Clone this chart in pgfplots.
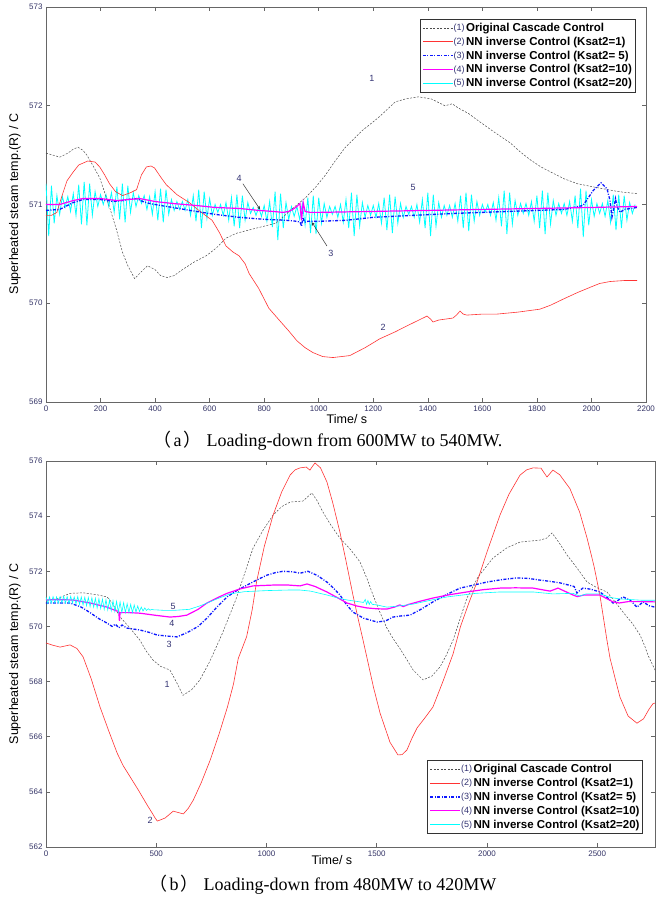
\documentclass[border=0pt]{standalone}
\usepackage{pgfplots}
\pgfplotsset{compat=1.18}
\usepackage{fontspec}
\setmainfont{Liberation Serif}
\setsansfont{Liberation Sans}
\newfontfamily\cjk{Noto Sans CJK SC}
\definecolor{labcol}{rgb}{0.2,0.2,0.45}
\definecolor{ticcol}{rgb}{0.2,0.2,0.4}
\definecolor{myred}{rgb}{1,0.2,0.2}
\definecolor{mycyan}{rgb}{0,1,1}
\definecolor{mymag}{rgb}{1,0,1}
\definecolor{myblue}{rgb}{0.05,0.1,1}
\definecolor{mygray}{rgb}{0.3,0.3,0.3}
\tikzset{
  numlab/.style={font=\sffamily\fontsize{9}{10}\selectfont, text=labcol},
  t1/.style={color=mygray, line width=0.5pt, dash pattern=on 2pt off 1.5pt},
  t2/.style={color=myred, line width=0.6pt},
  t3/.style={color=myblue, line width=1.3pt, dash pattern=on 3pt off 1.5pt on 1pt off 1.5pt},
  t4/.style={color=mymag, line width=1.2pt},
  t5/.style={color=mycyan, line width=0.6pt},
}
\newcommand{\lgimg}[3]{\addlegendimage{legend image code/.code={\draw[#1, line width=#3] (0pt,0pt) -- (30pt,0pt); \node[anchor=west, inner xsep=0.5pt, inner ysep=0pt, text=labcol, font=\sffamily\fontsize{9}{9}\selectfont] at (30pt,0pt) {(#2)};}}}
\begin{document}
\begin{tikzpicture}
\useasboundingbox (0pt,0pt) rectangle (657pt,905pt);
\pgfplotsset{
  mystyle/.style={
    scale only axis, anchor=south west,
    axis line style={black!60, line width=0.6pt},
    tick align=inside, major tick length=4pt,
    tick style={black!60, line width=0.6pt},
    scaled ticks=false,
    /pgf/number format/assume math mode=true,
    /pgf/number format/set thousands separator={},
    ticklabel style={font=\sffamily\fontsize{8}{9}\selectfont, text=ticcol},
    legend cell align=left,
    legend style={draw=black!80, line width=0.6pt, font=\sffamily\bfseries\fontsize{11.5}{12}\selectfont, row sep=0pt, inner xsep=2pt, inner ysep=2pt,
      nodes={inner xsep=1pt}, column sep=0pt},
  },
}
% ---------------- top axis ----------------
\begin{axis}[mystyle, at={(46pt,503pt)}, width=600pt, height=395pt,
  xmin=0, xmax=2200, ymin=569, ymax=573,
  xtick={0,200,...,2200}, ytick={569,570,571,572,573},
  legend style={at={(0.982,0.970)}, anchor=north east}]
\addplot[t5, line width=0.8pt, forget plot] table {
0 571.21
10 570.68
20 571.19
30 570.81
40 571.09
50 570.90
60 571.08
70 570.97
80 571.08
90 570.93
100 571.11
110 570.89
120 571.20
130 570.80
140 571.23
150 570.79
160 571.21
170 570.89
180 571.13
190 570.98
200 571.10
210 571.00
220 571.10
230 570.98
240 571.12
250 570.92
260 571.18
270 570.85
280 571.21
290 570.82
300 571.19
310 570.92
320 571.12
330 570.98
340 571.09
350 571.01
360 571.09
370 570.95
380 571.08
390 570.90
400 571.13
410 570.84
420 571.16
430 570.82
440 571.15
450 570.90
460 571.05
470 570.94
480 571.03
490 570.95
500 571.03
510 570.94
520 571.05
530 570.89
540 571.09
550 570.83
560 571.15
570 570.76
580 571.13
590 570.86
600 571.06
610 570.89
620 571.00
630 570.92
640 571.00
650 570.89
660 571.02
670 570.84
680 571.07
690 570.78
700 571.10
710 570.76
720 571.09
730 570.84
740 571.02
750 570.91
760 570.97
770 570.89
780 570.97
790 570.88
800 570.99
810 570.83
820 571.03
830 570.77
840 571.13
850 570.64
860 571.11
870 570.76
880 571.02
890 570.85
900 570.98
910 570.88
920 570.98
930 570.85
940 571.01
950 570.79
960 571.07
970 570.71
980 571.09
990 570.70
1000 571.07
1010 570.81
1020 571.01
1030 570.87
1040 570.98
1050 570.90
1060 570.98
1070 570.87
1080 571.00
1090 570.82
1100 571.05
1110 570.76
1120 571.12
1130 570.68
1140 571.10
1150 570.78
1160 571.02
1170 570.87
1180 570.99
1190 570.89
1200 570.99
1210 570.87
1220 571.01
1230 570.81
1240 571.07
1250 570.74
1260 571.10
1270 570.71
1280 571.08
1290 570.81
1300 571.01
1310 570.87
1320 570.98
1330 570.90
1340 570.98
1350 570.87
1360 571.00
1370 570.82
1380 571.05
1390 570.76
1400 571.12
1410 570.68
1420 571.10
1430 570.78
1440 571.02
1450 570.87
1460 570.99
1470 570.89
1480 570.99
1490 570.87
1500 571.01
1510 570.83
1520 571.09
1530 570.76
1540 571.12
1550 570.73
1560 571.10
1570 570.83
1580 571.03
1590 570.89
1600 571.00
1610 570.92
1620 571.00
1630 570.89
1640 571.02
1650 570.84
1660 571.07
1670 570.78
1680 571.14
1690 570.70
1700 571.12
1710 570.80
1720 571.04
1730 570.89
1740 571.01
1750 570.91
1760 571.01
1770 570.89
1780 571.03
1790 570.83
1800 571.09
1810 570.76
1820 571.14
1830 570.70
1840 571.12
1850 570.80
1860 571.04
1870 570.89
1880 571.01
1890 570.91
1900 571.01
1910 570.89
1920 571.03
1930 570.83
1940 571.09
1950 570.76
1960 571.16
1970 570.67
1980 571.14
1990 570.79
2000 571.05
2010 570.88
2020 571.01
2030 570.91
2040 571.01
2050 570.88
2060 571.04
2070 570.82
2080 571.10
2090 570.74
2100 571.10
2110 570.76
2120 571.09
2130 570.84
2140 571.02
2150 570.91
2160 571.00
};
\addplot[t1, forget plot] coordinates {(0,571.52)(25,571.5)(51,571.48)(80,571.52)(100,571.56)(117,571.58)(135,571.55)(150,571.5)(175,571.38)(197,571.27)(230,571.0)(259,570.74)(280,570.52)(300,570.38)(325,570.25)(350,570.32)(372,570.38)(400,570.34)(420,570.28)(445,570.26)(470,570.28)(500,570.34)(545,570.42)(587,570.48)(625,570.56)(660,570.66)(700,570.71)(770,570.76)(843,570.81)(900,570.95)(952,571.07)(990,571.18)(1025,571.3)(1060,571.44)(1098,571.58)(1160,571.75)(1219,571.88)(1250,571.96)(1281,572.04)(1320,572.07)(1365,572.09)(1412,572.07)(1463,572.0)(1490,572.02)(1510,571.98)(1550,571.92)(1584,571.85)(1640,571.74)(1704,571.62)(1740,571.53)(1777,571.45)(1815,571.38)(1850,571.33)(1900,571.26)(1949,571.21)(2022,571.17)(2100,571.13)(2167,571.11)};
\addplot[t2, forget plot] coordinates {(0,570.89)(20,570.89)(40,570.92)(60,571.1)(77,571.24)(100,571.33)(120,571.4)(153,571.44)(180,571.43)(197,571.38)(215,571.3)(233,571.21)(255,571.13)(281,571.09)(310,571.12)(332,571.15)(350,571.3)(368,571.38)(385,571.39)(398,571.37)(420,571.28)(441,571.2)(480,571.1)(525,571.02)(565,570.93)(609,570.84)(635,570.72)(660,570.58)(685,570.52)(708,570.48)(730,570.4)(745,570.3)(780,570.15)(817,569.95)(858,569.82)(890,569.72)(920,569.62)(950,569.55)(979,569.5)(1015,569.46)(1052,569.45)(1114,569.47)(1170,569.55)(1224,569.64)(1280,569.71)(1323,569.77)(1360,569.82)(1397,569.87)(1410,569.84)(1419,569.81)(1440,569.83)(1492,569.85)(1505,569.88)(1518,569.92)(1530,569.89)(1543,569.88)(1600,569.89)(1653,569.89)(1730,569.91)(1811,569.94)(1850,569.98)(1895,570.04)(1950,570.11)(1994,570.16)(2030,570.2)(2068,570.22)(2120,570.23)(2167,570.23)};
\addplot[t3, forget plot] coordinates {(0,570.94)(50,570.95)(100,571.02)(135,571.05)(200,571.05)(250,571.03)(280,571.04)(300,571.05)(332,571.06)(355,571.03)(380,571.01)(420,570.99)(465,570.97)(550,570.93)(620,570.9)(708,570.87)(800,570.85)(880,570.84)(920,570.83)(932,570.82)(937,570.78)(942,570.87)(948,570.82)(960,570.83)(1000,570.83)(1100,570.84)(1200,570.87)(1346,570.89)(1500,570.91)(1700,570.93)(1900,570.95)(1969,570.99)(2006,571.14)(2035,571.22)(2057,571.16)(2068,571.04)(2075,570.87)(2082,570.96)(2088,571.06)(2094,570.98)(2105,570.92)(2120,570.95)(2167,570.97)};
\addplot[t4, forget plot] coordinates {(0,571.0)(50,571.0)(100,571.04)(135,571.06)(200,571.06)(260,571.04)(300,571.05)(344,571.06)(400,571.03)(465,571.01)(550,570.99)(620,570.97)(708,570.96)(780,570.94)(830,570.93)(870,570.92)(890,570.93)(905,570.95)(920,570.98)(931,571.01)(937,570.84)(943,571.02)(950,570.93)(968,570.92)(1000,570.92)(1200,570.93)(1400,570.94)(1600,570.95)(1800,570.96)(2000,570.97)(2167,570.98)};
\lgimg{t1}{1}{0.6pt}
\addlegendentry{Original Cascade Control}
\lgimg{t2}{2}{0.9pt}
\addlegendentry{NN inverse Control (Ksat2=1)}
\lgimg{t3}{3}{1.3pt}
\addlegendentry{NN inverse Control (Ksat2= 5)}
\lgimg{t4}{4}{1.2pt}
\addlegendentry{NN inverse Control (Ksat2=10)}
\lgimg{t5}{5}{1pt}
\addlegendentry{NN inverse Control (Ksat2=20)}
\node[numlab] at (axis cs:1195,572.28) {1};
\node[numlab] at (axis cs:1236,569.76) {2};
\node[numlab] at (axis cs:1045,570.5) {3};
\node[numlab] at (axis cs:708,571.26) {4};
\node[numlab] at (axis cs:1346,571.17) {5};
\draw[-stealth, black!80, line width=0.5pt] (axis cs:722,571.21) -- (axis cs:785,570.95);
\draw[-stealth, black!80, line width=0.5pt] (axis cs:1030,570.58) -- (axis cs:975,570.82);
\end{axis}
% ---------------- bottom axis ----------------
\begin{axis}[mystyle, at={(46pt,58pt)}, width=609pt, height=386pt,
  xmin=0, xmax=2762, ymin=562, ymax=576,
  xtick={0,500,...,2500}, ytick={562,564,...,576},
  legend style={at={(0.980,0.034)}, anchor=south east}]
\addplot[t1, forget plot] coordinates {(0,570.95)(50,571.0)(109,571.2)(168,571.22)(230,571.15)(277,571.07)(300,570.85)(336,570.34)(380,569.95)(426,569.5)(455,569.1)(485,568.78)(520,568.55)(562,568.42)(600,567.85)(621,567.5)(660,567.7)(698,568.06)(744,568.75)(800,569.75)(860,570.95)(900,571.9)(939,572.84)(985,573.5)(1030,574.04)(1070,574.35)(1107,574.51)(1166,574.55)(1206,574.84)(1230,574.55)(1256,574.15)(1290,573.7)(1333,573.2)(1380,572.8)(1424,572.34)(1455,571.75)(1483,571.14)(1515,570.5)(1546,569.94)(1575,569.55)(1605,569.2)(1640,568.75)(1665,568.42)(1710,568.06)(1750,568.2)(1787,568.53)(1815,568.95)(1846,569.5)(1875,570.2)(1909,571.03)(1960,571.8)(2027,572.48)(2090,572.85)(2150,573.06)(2240,573.13)(2270,573.2)(2295,573.39)(2330,573.0)(2363,572.59)(2410,572.1)(2454,571.61)(2500,571.4)(2544,571.25)(2580,570.9)(2617,570.52)(2660,570.1)(2694,569.69)(2715,569.3)(2730,568.96)(2762,568.42)};
\addplot[t2, forget plot] coordinates {(0,569.4)(30,569.32)(64,569.25)(109,569.33)(140,569.2)(168,568.9)(205,568.1)(245,567.08)(285,566.2)(323,565.4)(350,564.95)(382,564.54)(420,564.05)(459,563.52)(480,563.25)(495,563.05)(505,562.94)(540,563.05)(577,563.3)(600,563.25)(623,563.2)(645,563.4)(668,563.7)(705,564.35)(745,565.16)(785,566.1)(823,567.08)(850,567.9)(872,568.84)(910,569.63)(935,570.6)(955,571.62)(990,572.9)(1030,574.04)(1070,574.9)(1107,575.49)(1130,575.68)(1152,575.75)(1180,575.78)(1197,575.67)(1208,575.8)(1220,575.93)(1245,575.75)(1274,575.24)(1300,574.5)(1333,573.42)(1360,572.4)(1392,571.14)(1415,570.3)(1438,569.5)(1456,568.85)(1485,567.8)(1515,566.86)(1560,565.8)(1596,565.34)(1615,565.35)(1637,565.52)(1660,565.95)(1683,566.32)(1720,566.7)(1755,567.08)(1800,568.0)(1846,569.0)(1880,570.0)(1920,570.9)(1955,571.61)(2000,572.7)(2059,574.04)(2100,574.8)(2150,575.49)(2180,575.68)(2209,575.75)(2245,575.74)(2272,575.42)(2299,575.67)(2330,575.5)(2376,575.0)(2420,574.15)(2454,573.2)(2485,572.2)(2512,571.14)(2544,569.5)(2558,568.85)(2580,568.15)(2603,567.44)(2640,566.75)(2680,566.49)(2710,566.65)(2735,567.0)(2753,567.2)(2762,567.22)};
\addplot[t3, forget plot] coordinates {(0,570.85)(109,570.85)(160,570.7)(200,570.5)(240,570.28)(277,570.12)(300,570.0)(315,570.08)(330,569.95)(345,570.05)(367,569.94)(426,569.87)(470,569.78)(503,569.69)(550,569.65)(594,569.62)(639,569.77)(690,570.0)(730,570.3)(775,570.7)(821,571.07)(865,571.3)(912,571.5)(960,571.7)(1002,571.86)(1040,571.95)(1075,572.0)(1120,571.98)(1152,571.93)(1188,572.0)(1230,571.85)(1274,571.61)(1305,571.38)(1333,571.14)(1362,570.8)(1392,570.52)(1440,570.3)(1501,570.16)(1540,570.2)(1574,570.34)(1610,570.38)(1651,570.41)(1700,570.62)(1755,570.89)(1815,571.15)(1878,571.39)(1940,571.5)(2000,571.61)(2070,571.7)(2136,571.76)(2190,571.74)(2240,571.68)(2290,571.63)(2331,571.58)(2370,571.5)(2395,571.45)(2408,571.21)(2420,571.3)(2435,571.39)(2470,571.35)(2512,571.25)(2545,571.05)(2572,570.85)(2595,570.95)(2617,571.07)(2650,570.95)(2680,570.7)(2708,570.89)(2735,570.75)(2762,570.7)};
\addplot[t4, forget plot] coordinates {(0,570.96)(60,570.97)(122,570.96)(200,570.85)(277,570.7)(320,570.56)(330,570.55)(333,570.2)(336,570.5)(380,570.5)(426,570.48)(500,570.4)(562,570.34)(600,570.36)(639,570.41)(690,570.62)(730,570.85)(780,571.05)(821,571.2)(880,571.36)(939,571.47)(1030,571.5)(1100,571.5)(1152,571.47)(1184,571.54)(1220,571.45)(1274,571.25)(1320,571.05)(1365,570.85)(1410,570.74)(1456,570.67)(1500,570.64)(1546,570.63)(1580,570.7)(1605,570.78)(1620,570.72)(1645,570.8)(1700,570.92)(1755,571.03)(1830,571.15)(1909,571.25)(1980,571.33)(2059,571.39)(2130,571.4)(2209,571.39)(2286,571.28)(2322,571.39)(2360,571.25)(2390,571.14)(2410,571.08)(2440,571.14)(2512,571.14)(2545,571.0)(2572,570.89)(2600,570.85)(2640,570.9)(2700,570.9)(2762,570.89)};
\addplot[t5, forget plot] coordinates {(0,571.06)(8,570.84)(16,571.07)(24,570.85)(32,571.08)(40,570.86)(48,571.07)(56,570.85)(64,571.08)(72,570.86)(80,571.09)(88,570.85)(96,571.08)(104,570.84)(112,571.09)(120,570.85)(128,571.07)(136,570.82)(144,571.08)(152,570.80)(160,571.07)(168,570.78)(176,571.06)(184,570.75)(192,571.05)(200,570.72)(208,571.04)(216,570.70)(224,571.02)(232,570.67)(240,571.0)(248,570.65)(256,570.99)(264,570.62)(272,570.97)(280,570.60)(288,570.95)(296,570.57)(304,570.93)(312,570.55)(320,570.91)(328,570.52)(336,570.89)(344,570.5)(352,570.86)(360,570.5)(368,570.83)(376,570.5)(384,570.8)(392,570.5)(400,570.78)(408,570.52)(416,570.74)(424,570.54)(432,570.7)(440,570.56)(448,570.67)(456,570.58)(464,570.64)(472,570.59)(480,570.62)(490,570.6)(500,570.6)(540,570.58)(576,570.58)(650,570.62)(700,570.75)(776,571.0)(835,571.18)(900,571.26)(1002,571.3)(1100,571.32)(1152,571.32)(1200,571.28)(1274,571.14)(1320,571.04)(1365,570.96)(1424,570.89)(1440,570.87)(1448,570.98)(1454,570.8)(1460,570.94)(1466,570.8)(1472,570.9)(1480,570.8)(1500,570.78)(1546,570.7)(1600,570.74)(1665,570.81)(1750,570.96)(1819,571.07)(1950,571.2)(2059,571.25)(2209,571.25)(2299,571.18)(2390,571.2)(2420,571.1)(2450,571.18)(2512,571.18)(2560,571.05)(2600,571.0)(2700,570.95)(2762,570.95)};
\lgimg{t1}{1}{0.6pt}
\addlegendentry{Original Cascade Control}
\lgimg{t2}{2}{0.9pt}
\addlegendentry{NN inverse Control (Ksat2=1)}
\lgimg{t3}{3}{1.3pt}
\addlegendentry{NN inverse Control (Ksat2= 5)}
\lgimg{t4}{4}{1.2pt}
\addlegendentry{NN inverse Control (Ksat2=10)}
\lgimg{t5}{5}{1pt}
\addlegendentry{NN inverse Control (Ksat2=20)}
\node[numlab] at (axis cs:549,567.91) {1};
\node[numlab] at (axis cs:472,562.98) {2};
\node[numlab] at (axis cs:558,569.36) {3};
\node[numlab] at (axis cs:571,570.12) {4};
\node[numlab] at (axis cs:576,570.74) {5};
\end{axis}
% ---------------- labels and captions ----------------
\node[rotate=90, font=\sffamily\fontsize{12.5}{13}\selectfont] at (15pt,701pt) {Superheated steam temp.(R) / C};
\node[rotate=90, font=\sffamily\fontsize{12.5}{13}\selectfont] at (15pt,251pt) {Superheated steam temp.(R) / C};
\node[font=\sffamily\fontsize{12.5}{13}\selectfont] at (347pt,486pt) {Time/ s};
\node[font=\sffamily\fontsize{12.5}{13}\selectfont] at (332pt,45pt) {Time/ s};
\node[font=\fontsize{18}{20}\selectfont] at (328pt,464pt) {{\cjk （}\hspace{2pt}a\hspace{2pt}{\cjk ）}\hspace{5pt}Loading-down from 600MW to 540MW.};
\node[font=\fontsize{18}{20}\selectfont] at (323pt,20pt) {{\cjk （}\hspace{2pt}b\hspace{2pt}{\cjk ）}\hspace{5pt}Loading-down from 480MW to 420MW};
\end{tikzpicture}
\end{document}
